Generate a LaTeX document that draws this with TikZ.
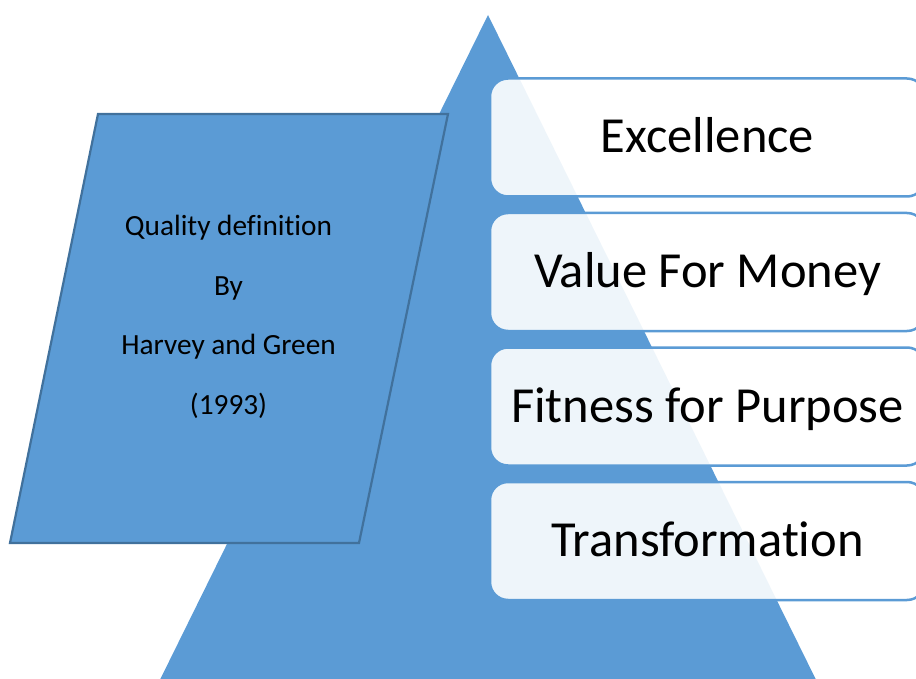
\documentclass[tikz,border=0pt]{standalone}
\usepackage{fontspec}
\setmainfont{Carlito}[Ligatures=NoCommon]
\definecolor{myBlue}{HTML}{5B9BD5}
\definecolor{myDark}{HTML}{41719C}

\begin{document}
\begin{tikzpicture}[x=1pt, y=-1pt]

  \tikzstyle{L}=[rectangle, rounded corners=18pt, draw=myBlue, line width=2.5pt, fill=white, fill opacity=0.9, text opacity=1, minimum width=435pt, minimum height=118pt, text height=31pt, text depth=0pt, inner sep=0pt, font=\fontsize{50.5}{60}\selectfont]
  \tikzstyle{Q}=[align=center, font=\fontsize{29.3}{59.5}\selectfont]

  \useasboundingbox (0,0) rectangle (916,679);
  \clip (0,0) rectangle (916,679);

  % pyramid
  \fill[myBlue] (488,15) -- (150,700) -- (826,700) -- cycle;

  % parallelogram
  \draw[myDark, line width=2.2pt, fill=myBlue] (98,114) -- (448,114) -- (359,543) -- (10,543) -- cycle;
  \node[Q] at (228.5,317) (quality) {Quality definition\\By\\Harvey and Green\\(1993)};

  \node[L] at (707.5,137.5) (excellence) {Excellence};
  \node[L] at (707.5,272) (value) {Value For Money};
  \node[L] at (707.5,406.5) (fitness) {Fitness for Purpose};
  \node[L] at (707.5,541) (transform) {Transformation};

\end{tikzpicture}
\end{document}
